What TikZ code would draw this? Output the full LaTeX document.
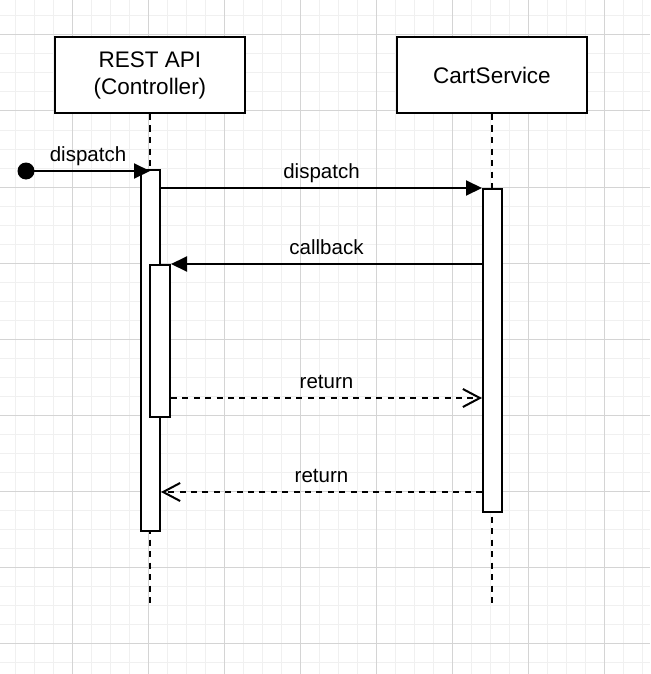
\documentclass[tikz,border=0pt]{standalone}
\usepackage{fontspec}
\setmainfont{Liberation Sans}
\usetikzlibrary{arrows.meta}
\definecolor{gridminor}{HTML}{F0F0F0}
\definecolor{gridmajor}{HTML}{D4D4D4}
\begin{document}
\begin{tikzpicture}[x=1pt,y=-1pt,
  minorline/.style={draw=gridminor,line width=1pt},
  majorline/.style={draw=gridmajor,line width=1pt},
  actorbox/.style={draw=black,line width=2pt,fill=white,minimum width=190pt,minimum height=76pt,align=center,inner sep=0pt,font=\fontsize{22.5}{27}\selectfont},
  actbar/.style={draw=black,line width=2pt,fill=white,inner sep=0pt,minimum width=19pt},
  lifeline/.style={draw=black,line width=2pt,dash pattern=on 6pt off 5.5pt},
  syncmsg/.style={draw=black,line width=2pt,-{Triangle[length=16pt,width=15pt]}},
  retmsg/.style={draw=black,line width=2pt,dash pattern=on 6pt off 5.4pt,-{Straight Barb[length=17pt,width=18pt,line width=2pt]}},
  msglabel/.style={font=\fontsize{20.5}{24}\selectfont,anchor=base,yshift=10pt,inner sep=0pt}]
\useasboundingbox (0,0) rectangle (650,674);
\fill[white] (0,0) rectangle (650,674);
% grid
\foreach \i in {0,...,34} {\draw[minorline] ({-3.3+19*\i},0) -- ++(0,674);}
\foreach \i in {0,...,36} {\draw[minorline] (0,{-3+19*\i}) -- ++(650,0);}
\foreach \i in {1,...,8} {\draw[majorline] ({-3.3+76*\i},0) -- ++(0,674);}
\foreach \i in {1,...,9} {\draw[majorline] (0,{-41+76*\i}) -- ++(650,0);}
% actors
\node[actorbox] (rest) at (150,75) {REST API\\(Controller)};
\node[actorbox] (cart) at (492,75) {CartService};
\coordinate (restend) at (150,607);
\coordinate (cartend) at (492,607);
\draw[lifeline] (rest.south) -- (restend);
\draw[lifeline] (cart.south) -- (cartend);
% activations
\node[actbar,minimum height=361pt] (a1) at (150.5,350.5) {};
\node[actbar,minimum width=20pt,minimum height=152pt] (a2) at (160,341) {};
\node[actbar,minimum height=323pt] (a3) at (492.5,350.5) {};
% start
\fill[black] (26,171) circle (8.5pt);
\coordinate (start) at (26,171);
\coordinate (entry) at (150,171);
\draw[syncmsg] (start) -- (entry) node[msglabel,midway] {dispatch};
% messages
\draw[syncmsg] (a1.east |- a3.north) -- (a3.north west) node[msglabel,midway] {dispatch};
\draw[syncmsg] (a3.west |- a2.north) -- (a2.north east) node[msglabel,midway] {callback};
\coordinate (r1) at (0,398);
\coordinate (r2) at (0,492);
\draw[retmsg] (a2.east |- r1) -- (a3.west |- r1) node[msglabel,midway] {return};
\draw[retmsg] (a3.west |- r2) -- (a1.east |- r2) node[msglabel,midway] {return};
\end{tikzpicture}
\end{document}
